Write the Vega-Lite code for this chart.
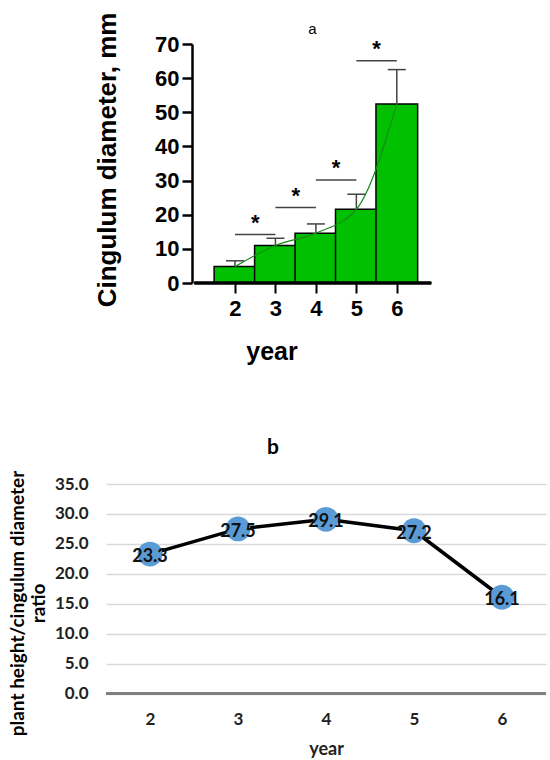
{
  "$schema": "https://vega.github.io/schema/vega-lite/v6.json",
  "padding": {"top": 12, "left": 8, "right": 2, "bottom": 5},
  "background": "white",
  "spacing": 73,
  "config": {"view": {"stroke": null}},
  "vconcat": [
    {
      "width": 331,
      "height": 239,
      "title": {"text": "a", "font": "Liberation Sans", "fontSize": 15, "fontWeight": "normal", "color": "#000", "dx": 41, "offset": -25, "frame": "group"},
      "data": {"values": [
        {"year": 2, "mean": 4.8, "upper": 6.5},
        {"year": 3, "mean": 11.0, "upper": 13.1},
        {"year": 4, "mean": 14.6, "upper": 17.3},
        {"year": 5, "mean": 21.6, "upper": 26.0},
        {"year": 6, "mean": 52.4, "upper": 62.5}
      ]},
      "layer": [
        {
          "mark": {"type": "bar", "width": 41.7, "fill": "#00c000", "stroke": "#000", "strokeWidth": 1.5},
          "encoding": {
            "x": {"field": "year", "type": "quantitative",
              "scale": {"domain": [-1.065, 6.87], "nice": false, "zero": false},
              "axis": {"values": [2, 3, 4, 5, 6], "domain": false, "grid": false, "tickColor": "#000", "tickWidth": 2, "tickSize": 10, "labelOverlap": false,
                "labelFont": "Liberation Sans", "labelFontSize": 22, "labelFontWeight": "bold", "labelColor": "#000", "labelPadding": 5,
                "title": "year", "titleFont": "Liberation Sans", "titleFontSize": 25, "titleFontWeight": "bold", "titleColor": "#000", "titlePadding": 20}},
            "y": {"field": "mean", "type": "quantitative",
              "scale": {"domain": [0, 70], "nice": false},
              "axis": {"values": [0, 10, 20, 30, 40, 50, 60, 70], "tickCount": 8, "offset": -86, "grid": false, "domainColor": "#000", "domainWidth": 2.5, "labelOverlap": false,
                "tickColor": "#000", "tickWidth": 2.5, "tickSize": 10,
                "labelFont": "Liberation Sans", "labelFontSize": 22, "labelFontWeight": "bold", "labelColor": "#000", "labelPadding": 3,
                "title": "Cingulum diameter, mm", "titleFont": "Liberation Sans", "titleFontSize": 26, "titleFontWeight": "bold", "titleColor": "#000", "titlePadding": 34, "titleY": 115.5}}
          }
        },
        {
          "mark": {"type": "rule", "color": "#444", "strokeWidth": 1.5},
          "encoding": {"x": {"field": "year", "type": "quantitative"}, "y": {"field": "mean", "type": "quantitative"}, "y2": {"field": "upper"}}
        },
        {
          "mark": {"type": "point", "shape": "M-1,0L1,0", "size": 324, "filled": false, "stroke": "#444", "strokeWidth": 1.5, "opacity": 1},
          "encoding": {"x": {"field": "year", "type": "quantitative"}, "y": {"field": "upper", "type": "quantitative"}}
        },
        {
          "mark": {"type": "line", "color": "#1a8a1a", "strokeWidth": 1.2, "interpolate": "monotone"},
          "encoding": {"x": {"field": "year", "type": "quantitative"}, "y": {"field": "mean", "type": "quantitative"}}
        },
        {
          "data": {"values": [
            {"from": 2, "to": 3, "mid": 2.5, "level": 14.2},
            {"from": 3, "to": 4, "mid": 3.5, "level": 22.1},
            {"from": 4, "to": 5, "mid": 4.5, "level": 30.2},
            {"from": 5, "to": 6, "mid": 5.5, "level": 65.1}
          ]},
          "layer": [
            {
              "mark": {"type": "rule", "color": "#444", "strokeWidth": 1.5},
              "encoding": {"x": {"field": "from", "type": "quantitative"}, "x2": {"field": "to"}, "y": {"field": "level", "type": "quantitative"}}
            },
            {
              "mark": {"type": "text", "text": "*", "font": "Liberation Sans", "fontSize": 22, "fontWeight": "bold", "color": "#000", "baseline": "middle", "dy": -12},
              "encoding": {"x": {"field": "mid", "type": "quantitative"}, "y": {"field": "level", "type": "quantitative"}}
            }
          ]
        },
        {
          "mark": {"type": "rule", "color": "#000", "strokeWidth": 2.5},
          "encoding": {"x": {"datum": 1}, "x2": {"datum": 6.85}, "y": {"datum": 0}}
        }
      ]
    },
    {
      "width": 440,
      "height": 209.7,
      "title": {"text": "b", "font": "Lato", "fontSize": 21, "fontWeight": "bold", "color": "#000", "dx": -53, "offset": 12, "frame": "group"},
      "data": {"values": [
        {"year": "2", "ratio": 23.3},
        {"year": "3", "ratio": 27.5},
        {"year": "4", "ratio": 29.1},
        {"year": "5", "ratio": 27.2},
        {"year": "6", "ratio": 16.1}
      ]},
      "encoding": {
        "x": {"field": "year", "type": "ordinal", "scale": {"type": "point", "padding": 0.5},
          "axis": {"domain": false, "ticks": false, "tickSize": 0, "labelAngle": 0, "labelFont": "Lato", "labelFontSize": 17, "labelFontWeight": "bold", "labelColor": "#222", "labelPadding": 18,
            "title": "year", "titleFont": "Lato", "titleFontSize": 18, "titleFontWeight": "bold", "titleColor": "#222", "titlePadding": 13}},
        "y": {"field": "ratio", "type": "quantitative", "scale": {"domain": [0, 35], "nice": false},
          "axis": {"values": [0, 5, 10, 15, 20, 25, 30, 35], "format": ".1f", "domain": false, "ticks": false, "tickSize": 0, "gridColor": "#d9d9d9", "gridWidth": 1.3, "labelOverlap": false,
            "labelFont": "Lato", "labelFontSize": 17, "labelFontWeight": "bold", "labelColor": "#222", "labelPadding": 18,
            "title": ["plant height/cingulum diameter", "ratio"], "titleFont": "Lato", "titleFontSize": 19, "titleFontWeight": "bold", "titleColor": "#000", "titlePadding": 6, "titleLineHeight": 21, "titleY": 119}}
      },
      "layer": [
        {"mark": {"type": "rule", "color": "#7f7f7f", "strokeWidth": 2.5}, "encoding": {"y": {"datum": 0}, "x": null}},
        {"mark": {"type": "line", "color": "#000", "strokeWidth": 3.5}},
        {"mark": {"type": "circle", "size": 615, "color": "#5b9bd5", "opacity": 1}},
        {"mark": {"type": "text", "font": "Lato", "fontSize": 18, "fontWeight": "bold", "color": "#111", "baseline": "middle", "dy": 3},
          "encoding": {"text": {"field": "ratio", "type": "quantitative", "format": ".1f"}}}
      ]
    }
  ]
}
